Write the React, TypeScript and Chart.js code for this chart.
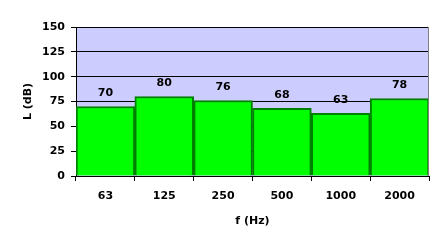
import React, { useEffect, useRef } from "react";
import { Chart, registerables } from "chart.js";

Chart.register(...registerables);

const categories = ["63", "125", "250", "500", "1000", "2000"];
const levels = [70, 80, 76, 68, 63, 78];
const yTicks = [0, 25, 50, 75, 100, 125, 150];

const FONT = "'DejaVu Sans', Verdana, sans-serif";

const bgPlugin = {
  id: "plotBg",
  beforeDraw(chart: any) {
    const { ctx, chartArea } = chart;
    ctx.save();
    ctx.fillStyle = "#CCCCFF";
    ctx.fillRect(chartArea.left, chartArea.top, chartArea.right - chartArea.left, chartArea.bottom - chartArea.top);
    ctx.restore();
  },
  afterDraw(chart: any) {
    const { ctx, chartArea } = chart;
    ctx.save();
    ctx.strokeStyle = "#808080";
    ctx.lineWidth = 1;
    ctx.beginPath();
    ctx.moveTo(Math.round(chartArea.right) - 0.5, chartArea.top);
    ctx.lineTo(Math.round(chartArea.right) - 0.5, chartArea.bottom);
    ctx.stroke();
    ctx.restore();
  },
};

const labelPlugin = {
  id: "barLabels",
  afterDatasetsDraw(chart: any) {
    const { ctx } = chart;
    const meta = chart.getDatasetMeta(0);
    ctx.save();
    ctx.font = `bold 11px ${FONT}`;
    ctx.fillStyle = "#000000";
    ctx.textAlign = "center";
    ctx.textBaseline = "middle";
    meta.data.forEach((bar: any, i: number) => {
      ctx.fillText(String(levels[i]), bar.x, bar.y - 13);
    });
    ctx.restore();
  },
};

export default function App() {
  const ref = useRef<HTMLCanvasElement | null>(null);
  useEffect(() => {
    if (!ref.current) return;
    const chart = new Chart(ref.current, {
      type: "bar",
      data: {
        labels: categories,
        datasets: [
          {
            data: levels,
            backgroundColor: "#00FF00",
            borderColor: "#008000",
            borderWidth: 2,
            categoryPercentage: 1,
            barPercentage: 1,
          },
        ],
      },
      options: {
        responsive: false,
        animation: false,
        layout: { padding: { top: 27, right: 15, left: 0, bottom: 0 } },
        plugins: { legend: { display: false }, tooltip: { enabled: false } },
        scales: {
          x: {
            grid: {
              display: true,
              drawOnChartArea: false,
              drawTicks: true,
              tickLength: 5,
              color: "#000000",
              offset: true,
            },
            border: { display: true, color: "#000000", width: 1 },
            ticks: {
              color: "#000000",
              font: { family: FONT, size: 11, weight: "bold" },
              padding: 9,
            },
            title: {
              display: true,
              text: "f (Hz)",
              color: "#000000",
              font: { family: FONT, size: 11, weight: "bold" },
              padding: { top: 0, bottom: 20 },
            },
            afterFit(scale: any) {
              scale.height = 72;
            },
          },
          y: {
            min: 0,
            max: 150,
            afterBuildTicks(scale: any) {
              scale.ticks = yTicks.map((v) => ({ value: v }));
            },
            grid: {
              color: "#000000",
              lineWidth: 1,
              drawTicks: true,
              tickLength: 5,
            },
            border: { display: true, color: "#000000", width: 1 },
            ticks: {
              color: "#000000",
              font: { family: FONT, size: 11, weight: "bold" },
              padding: 6,
            },
            title: {
              display: true,
              text: "L (dB)",
              color: "#000000",
              font: { family: FONT, size: 11, weight: "bold" },
              padding: { top: 22, bottom: 0 },
            },
            afterFit(scale: any) {
              scale.width = 76;
            },
          },
        },
      },
      plugins: [bgPlugin, labelPlugin],
    });
    return () => chart.destroy();
  }, []);
  return (
    <canvas
      ref={ref}
      width={444}
      height={248}
      style={{ position: "absolute", left: 0, top: 0, display: "block", width: 444, height: 248 }}
    />
  );
}
